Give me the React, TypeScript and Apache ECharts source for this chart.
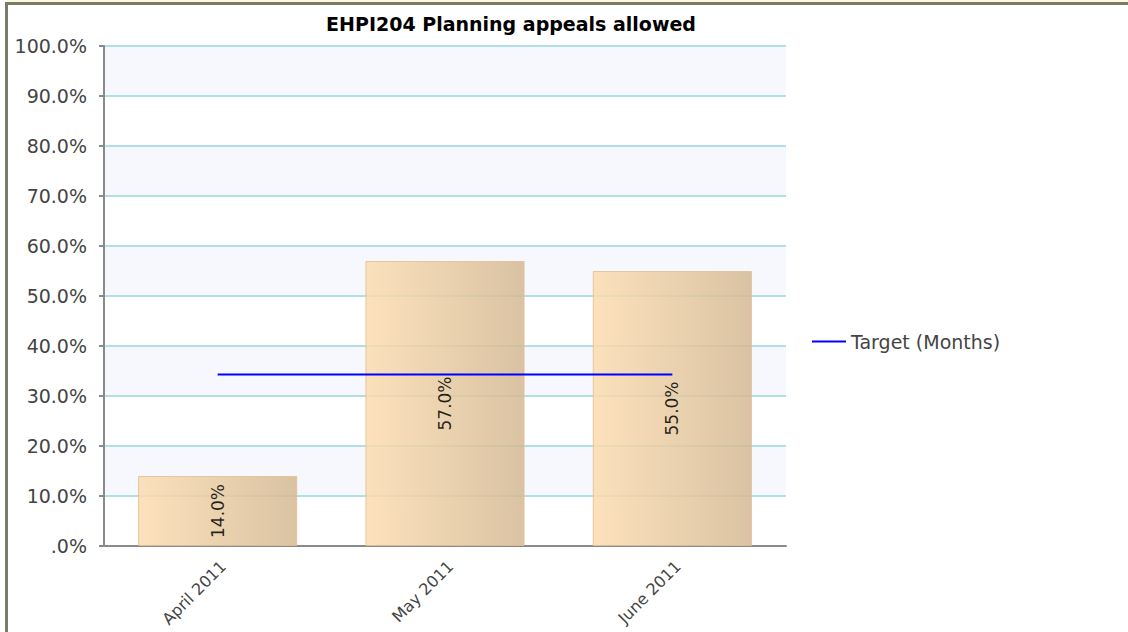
import React, { useEffect, useRef } from "react";
import * as echarts from "echarts";

const categories = ["April 2011", "May 2011", "June 2011"];
const actualValues = [14.0, 57.0, 55.0];
const targetValues = [34.3, 34.3, 34.3];
const titleText = "EHPI204 Planning appeals allowed";
const legendName = "Target (Months)";

export default function App() {
  const ref = useRef<HTMLDivElement>(null);
  useEffect(() => {
    if (!ref.current) return;
    const chart = echarts.init(ref.current, undefined, { renderer: "svg" });
    const font = "'DejaVu Sans', sans-serif";
    chart.setOption({
      animation: false,
      backgroundColor: "#ffffff",
      textStyle: { fontFamily: font },
      graphic: [
        { type: "rect", shape: { x: 8, y: 0, width: 1120, height: 2 }, style: { fill: "#fbf8dc" }, z: 100 },
        { type: "rect", shape: { x: 5, y: 2, width: 1123, height: 3 }, style: { fill: "#7c7a68" }, z: 100 },
        { type: "rect", shape: { x: 5, y: 2, width: 3, height: 630 }, style: { fill: "#7c7a68" }, z: 100 },
      ],
      title: {
        text: titleText,
        left: 506,
        top: 9,
        textAlign: "center",
        textStyle: { fontFamily: font, fontSize: 19, fontWeight: "bold", color: "#000" },
      },
      legend: {
        left: 807,
        top: 327,
        itemWidth: 34,
        itemHeight: 2,
        icon: "rect",
        textStyle: { fontFamily: font, fontSize: 19, color: "#444" },
        data: [{ name: legendName, icon: "rect" }],
      },
      grid: { left: 104, right: 342, top: 46, bottom: 86, containLabel: false },
      xAxis: {
        type: "category",
        data: categories,
        axisLine: { lineStyle: { color: "#8a8a8a", width: 2 } },
        axisTick: { alignWithLabel: true, length: 6, lineStyle: { color: "#8a8a8a", width: 2 } },
        axisLabel: {
          rotate: 45,
          margin: 12,
          verticalAlign: "top",
          fontFamily: font,
          fontSize: 16,
          color: "#444",
        },
      },
      yAxis: {
        type: "value",
        min: 0,
        max: 100,
        interval: 10,
        axisLine: { show: true, lineStyle: { color: "#8a8a8a", width: 2 } },
        axisTick: { show: true, length: 5, lineStyle: { color: "#8a8a8a", width: 2 } },
        axisLabel: {
          margin: 17,
          fontFamily: font,
          fontSize: 19,
          color: "#444",
          formatter: (v: number) => (v === 0 ? ".0%" : v.toFixed(1) + "%"),
        },
        splitLine: { show: true, lineStyle: { color: "#b0e0e6", width: 2 } },
        splitArea: { show: true, areaStyle: { color: ["#ffffff", "#f7f8fe"] } },
      },
      series: [
        {
          name: "Actual",
          type: "bar",
          data: actualValues,
          barCategoryGap: "30%",
          itemStyle: {
            opacity: 0.85,
            borderColor: "#e2bf92",
            borderWidth: 1,
            color: new echarts.graphic.LinearGradient(0, 0, 1, 0, [
              { offset: 0, color: "#fcdcb0" },
              { offset: 1, color: "#d4b993" },
            ]),
          },
          label: {
            show: true,
            position: "inside",
            rotate: 90,
            fontFamily: font,
            fontSize: 17,
            color: "#000",
            formatter: (p: any) => Number(p.value).toFixed(1) + "%",
          },
        },
        {
          name: legendName,
          type: "line",
          data: targetValues,
          symbol: "none",
          lineStyle: { color: "#0000ff", width: 2 },
          itemStyle: { color: "#0000ff" },
          z: 5,
        },
      ],
    });
    return () => chart.dispose();
  }, []);
  return (
    <div
      ref={ref}
      style={{ position: "fixed", left: 0, top: 0, width: 1128, height: 632 }}
    />
  );
}
